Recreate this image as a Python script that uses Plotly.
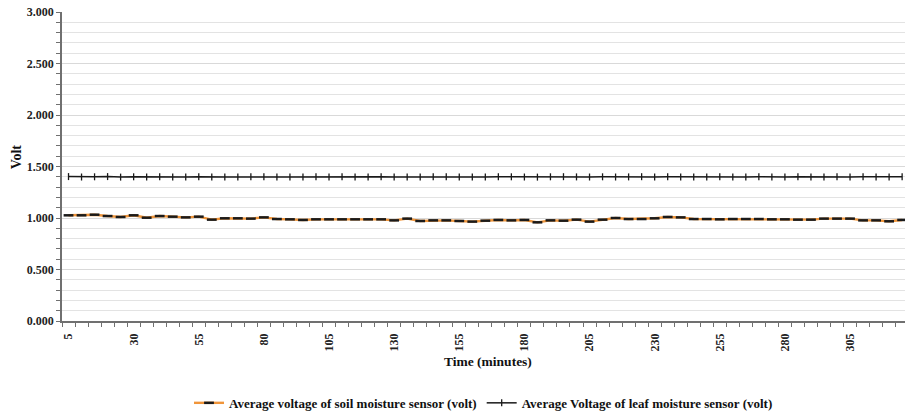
import plotly.graph_objects as go

minutes = list(range(5, 330, 5))  # 5 .. 325

soil = [1.026, 1.026, 1.032, 1.019, 1.010, 1.026, 1.003, 1.019, 1.013, 1.006,
        1.013, 0.984, 0.997, 0.997, 0.994, 1.006, 0.990, 0.987, 0.981, 0.987,
        0.987, 0.987, 0.987, 0.987, 0.987, 0.977, 0.994, 0.971, 0.977, 0.977,
        0.971, 0.965, 0.974, 0.981, 0.977, 0.981, 0.958, 0.977, 0.974, 0.984,
        0.965, 0.984, 1.000, 0.990, 0.990, 0.997, 1.010, 1.006, 0.990, 0.990,
        0.987, 0.990, 0.990, 0.990, 0.987, 0.987, 0.984, 0.984, 0.994, 0.994,
        0.994, 0.977, 0.977, 0.968, 0.981]

leaf = [1.402, 1.398, 1.400, 1.402, 1.397, 1.400, 1.398, 1.401, 1.399, 1.398,
        1.401, 1.397, 1.398, 1.397, 1.400, 1.401, 1.399, 1.397, 1.398, 1.400,
        1.397, 1.400, 1.399, 1.398, 1.401, 1.398, 1.397, 1.398, 1.401, 1.400,
        1.397, 1.399, 1.398, 1.401, 1.400, 1.398, 1.397, 1.400, 1.401, 1.399,
        1.398, 1.400, 1.398, 1.399, 1.401, 1.398, 1.400, 1.399, 1.397, 1.398,
        1.400, 1.398, 1.399, 1.401, 1.398, 1.397, 1.400, 1.398, 1.399, 1.401,
        1.398, 1.400, 1.399, 1.398, 1.400]

x_tick_vals = list(range(5, 310, 25))
x_tick_text = [str(v) for v in x_tick_vals]
y_tick_vals = [0, 0.5, 1.0, 1.5, 2.0, 2.5, 3.0]
y_tick_text = ["0.000", "0.500", "1.000", "1.500", "2.000", "2.500", "3.000"]

FONT = "Liberation Serif"

fig = go.Figure()
fig.add_trace(go.Scatter(
    x=minutes, y=soil, mode="lines+markers",
    name="<b>Average voltage of soil moisture sensor (volt)</b>",
    line=dict(color="#F0953A", width=2.4),
    marker=dict(symbol="line-ew", size=7, line=dict(color="#1a1a1a", width=2.5)),
))
fig.add_trace(go.Scatter(
    x=minutes, y=leaf, mode="lines+markers",
    name="<b>Average Voltage of leaf moisture sensor (volt)</b>",
    line=dict(color="#1a1a1a", width=1.5),
    marker=dict(symbol="line-ns", size=5, line=dict(color="#1a1a1a", width=1.3)),
))

fig.update_layout(
    width=905, height=417,
    margin=dict(l=62, r=0, t=12, b=96, autoexpand=False),
    paper_bgcolor="white", plot_bgcolor="white",
    font=dict(family=FONT, color="#222222", size=11),
    showlegend=True,
    legend=dict(orientation="h", x=0.5, xanchor="center", y=-0.265, yanchor="middle",
                font=dict(family=FONT, size=13, color="#111111"),
                itemwidth=30, tracegroupgap=0, bgcolor="rgba(0,0,0,0)"),
    xaxis=dict(
        range=[2.5, 326.1], showgrid=False, zeroline=False, automargin=False,
        showline=True, linecolor="#707070", linewidth=1.5,
        tickmode="array", tickvals=x_tick_vals, ticktext=["<b>%s</b>" % t for t in x_tick_text],
        ticks="", tickangle=-90, ticklabelstandoff=6,
        tickfont=dict(family=FONT, size=12, color="#222222"),
        minor=dict(tickmode="linear", tick0=2.5, dtick=5, ticks="outside",
                   ticklen=4, tickcolor="#707070", tickwidth=1, showgrid=False),
    ),
    yaxis=dict(
        range=[0, 3.0], zeroline=False, automargin=False,
        showline=True, linecolor="#707070", linewidth=1.5,
        tickmode="array", tickvals=y_tick_vals, ticktext=["<b>%s</b>" % t for t in y_tick_text],
        ticks="outside", ticklen=4, tickcolor="#707070",
        ticklabeloverflow="allow",
        showgrid=True, gridcolor="#D9D9D9", gridwidth=1,
        tickfont=dict(family=FONT, size=12, color="#222222"),
        minor=dict(tickmode="linear", tick0=0, dtick=0.1, ticks="outside",
                   ticklen=4, tickcolor="#707070", showgrid=True,
                   gridcolor="#E3E3E3", gridwidth=1),
    ),
    annotations=[
        dict(text="<b>Time (minutes)</b>", xref="paper", yref="paper",
             x=0.505, y=-0.12, xanchor="center", yanchor="middle", showarrow=False,
             yshift=-3,
             font=dict(family=FONT, size=13.5, color="#111111")),
        dict(text="<b>Volt</b>", xref="paper", yref="paper",
             x=-0.05, y=0.5, xanchor="center", yanchor="middle", showarrow=False,
             textangle=-90, xshift=-3, yshift=10,
             font=dict(family=FONT, size=14, color="#111111")),
    ],
)

# remove the browser's default 8px body margin so the figure sits at the window origin
fig.write_html("out.html", config={"displayModeBar": False},
               post_script="document.body.style.margin='0';")
